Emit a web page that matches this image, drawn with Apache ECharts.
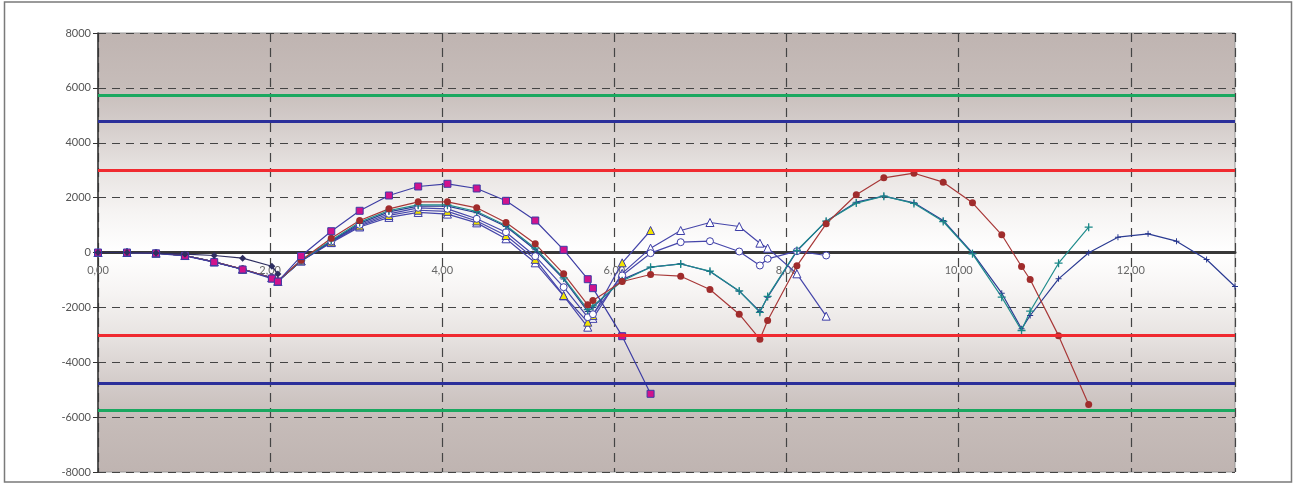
<!DOCTYPE html>
<html>
<head>
<meta charset="utf-8">
<script src="https://cdn.jsdelivr.net/npm/echarts@6/dist/echarts.min.js"></script>
<style>html,body{margin:0;padding:0;background:#fff;}#c{width:1295px;height:484px;}</style>
</head>
<body>
<div id="c"></div>
<script>
// time grid (x values)
const T = [0, 0.337, 0.674, 1.01, 1.35, 1.68, 2.02, 2.09, 2.36, 2.71, 3.04, 3.38, 3.72, 4.06, 4.40, 4.74, 5.08, 5.41, 5.69, 5.75, 6.09, 6.42, 6.77, 7.11, 7.45, 7.69, 7.78, 8.12, 8.46, 8.81, 9.13, 9.48, 9.82, 10.16, 10.50, 10.73, 10.83, 11.16, 11.51, 11.85, 12.20, 12.53, 12.88, 13.21];

const magenta = [0, 0, -30, -120, -350, -620, -950, -1060,
  -130, 776, 1520, 2078, 2406, 2504, 2333, 1884, 1166, 98, -973, -1300, -3050, -5150];
const red = [0, 0, -25, -110, -340, -600, -930, -1040,
  -280, 522, 1166, 1592, 1847, 1847, 1628, 1093, 316, -777, -1908, -1750,
  -1057, -802, -863, -1349, -2248, -3160, -2478,
  -485, 1046, 2103, 2723, 2890, 2563, 1811, 645, -510, -984, -3030, -5540];
const teal = [0, 0, -25, -110, -340, -610, -930, -1050,
  -290, 450, 1105, 1531, 1738, 1738, 1494, 984, 158, -923, -2078, -1945,
  -1040, -535, -420, -680, -1400, -2180, -1600,
  73, 1141, 1800, 2052, 1790, 1130, -50, -1628, -2843, -2140, -390, 922];
const star = [0, 0, -25, -110, -340, -610, -930, -1050,
  -300, 420, 1060, 1480, 1690, 1690, 1450, 950, 100, -970, -2150, -2000,
  -990, -535, -413, -692, -1410, -2150, -1628,
  48, 1141, 1834, 2052, 1811, 1166, -11, -1483, -2781, -2296, -960, -11,
  558, 680, 412, -255, -1240];
const circle = [0, 0, -25, -110, -340, -610, -920, -1050,
  -300, 400, 1010, 1410, 1628, 1592, 1228, 740, -135, -1264, -2357, -2250,
  -838, -24, 376, 412, 36, -474, -230, 48, -109];
const triangle = [0, 0, -25, -110, -340, -610, -920, -1050,
  -310, 360, 930, 1280, 1460, 1400, 1080, 500, -376, -1580, -2722, -2400,
  -760, 158, 802, 1093, 948, 340, 158, -777, -2320];
const yellow = [0, 0, -25, -110, -340, -610, -920, -1050,
  -305, 380, 970, 1350, 1540, 1500, 1150, 620, -250, -1567, -2540, -2300,
  -376, 802];
const navy = [0, 0, -20, -60, -110, -207, -500, -780];

// limit lines
const limits = [5740, 4780, 3000, -3000, -4780, -5740];
const yTicks = [-8000, -6000, -4000, -2000, 0, 2000, 4000, 6000, 8000];

const plus = 'path://M4.2,0 H5.8 V4.2 H10 V5.8 H5.8 V10 H4.2 V5.8 H0 V4.2 H4.2 Z';
function pts(a){ return a.map((v,i)=>[T[i], v]); }

const limitColors = {5740:'#1aa860', '-5740':'#1aa860', 4780:'#2b2f9a', '-4780':'#2b2f9a', 3000:'#f02a30', '-3000':'#f02a30'};

function ser(name, data, lineColor, symbol, size, itemStyle, z){
  return {
    name, type:'line', data: pts(data), symbol, symbolSize:size,
    showAllSymbol:true, animation:false, z: z||3,
    lineStyle:{color:lineColor, width:1.2},
    itemStyle: itemStyle
  };
}

const W = 1295, H = 484, TOP = 33, BOTTOM = 12;
const zeroOffset = -(H - TOP - BOTTOM) / 2;

const chart = echarts.init(document.getElementById('c'), null, {renderer:'canvas'});
chart.setOption({
  animation:false,
  backgroundColor:'#fff',
  textStyle:{fontFamily:'Lato, sans-serif'},
  graphic:[{type:'rect', shape:{x:4.5, y:2, width:1287, height:480}, style:{fill:null, stroke:'#7a7a7a', lineWidth:1.5}, silent:true, z:100}],
  grid:{left:98, right:60, top:TOP, bottom:BOTTOM, show:true, borderColor:'#999', borderWidth:1,
    backgroundColor:{type:'linear', x:0, y:0, x2:0, y2:1, colorStops:[
      {offset:0, color:'#bfb4b1'},
      {offset:0.12, color:'#c6bcb9'},
      {offset:0.22, color:'#d6cfcd'},
      {offset:0.32, color:'#e9e5e3'},
      {offset:0.41, color:'#f6f4f3'},
      {offset:0.5, color:'#ffffff'},
      {offset:0.59, color:'#f6f4f3'},
      {offset:0.68, color:'#e9e5e3'},
      {offset:0.78, color:'#d6cfcd'},
      {offset:0.88, color:'#c6bcb9'},
      {offset:1, color:'#bfb4b1'}]}},
  xAxis:{type:'value', min:0, max:13.21, interval:2, position:'bottom', offset:zeroOffset,
    axisLine:{onZero:false, lineStyle:{color:'#383838', width:3}},
    axisTick:{show:false},
    axisLabel:{margin:12, color:'#666', fontSize:11, showMaxLabel:false,
      formatter:v=>v.toFixed(2).replace('.', ',')},
    splitLine:{show:true, lineStyle:{color:'#444', width:1.2, type:[9,6]}}},
  yAxis:{type:'value', min:yTicks[0], max:yTicks[yTicks.length-1], interval:2000,
    axisLine:{show:true, onZero:false, lineStyle:{color:'#333', width:1.5}},
    axisTick:{show:true, length:5, lineStyle:{color:'#333'}},
    axisLabel:{margin:7, color:'#555', fontSize:11, formatter:v=>String(v)},
    splitLine:{show:true, lineStyle:{color:'#444', width:1, type:[8,6]}}},
  series:[
    {type:'line', data:[], z:1, silent:true,
      markLine:{silent:true, symbol:'none', label:{show:false}, animation:false,
        data: limits.map(v=>({yAxis:v, lineStyle:{color:limitColors[v], width:3, type:'solid'}}))}},
    ser('triangle', triangle, '#4646aa', 'triangle', 8, {color:'#ffffff', borderColor:'#3c3ca6', borderWidth:1}),
    ser('yellow', yellow, '#4646aa', 'triangle', 8, {color:'#f2e400', borderColor:'#3c3ca6', borderWidth:1}),
    ser('circle', circle, '#4646aa', 'circle', 7, {color:'#ffffff', borderColor:'#3c3ca6', borderWidth:1}),
    ser('star', star, '#2a3a92', plus, 6, {color:'#24348c'}),
    ser('teal', teal, '#1f8c8c', plus, 8, {color:'#1a8888'}),
    ser('red', red, '#a83838', 'circle', 7, {color:'#a02c2c', borderColor:'#a02c2c', borderWidth:0}),
    ser('magenta', magenta, '#3e3ea4', 'rect', 7, {color:'#d0138c', borderColor:'#3c3ca6', borderWidth:1}),
    ser('navy', navy, '#2e2e60', 'diamond', 7, {color:'#2e2e60'})
  ]
});
</script>
</body>
</html>
